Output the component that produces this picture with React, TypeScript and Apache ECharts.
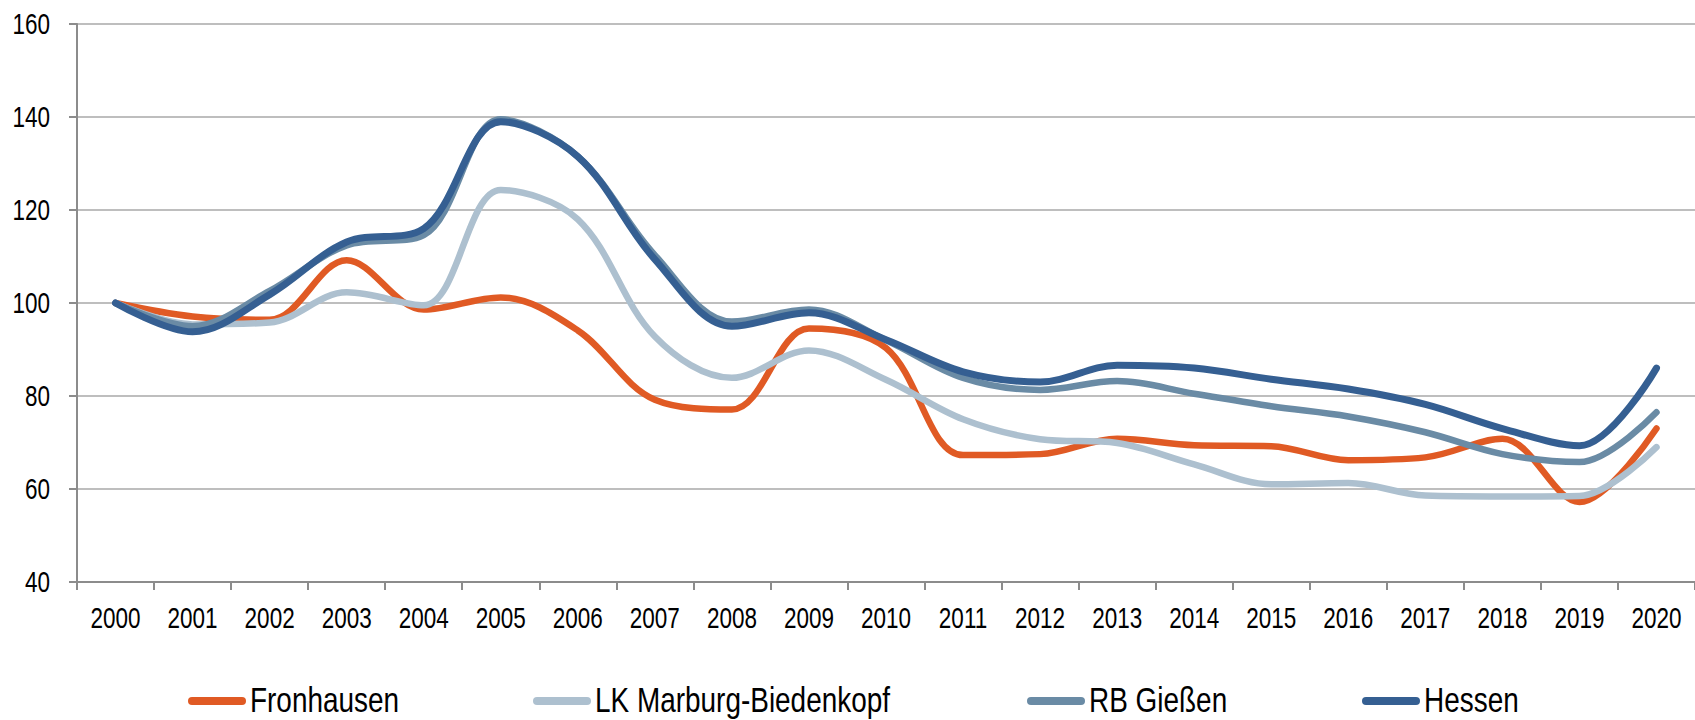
import React, { useEffect, useRef } from "react";
import * as echarts from "echarts";

const years = ["2000","2001","2002","2003","2004","2005","2006","2007","2008","2009","2010","2011","2012","2013","2014","2015","2016","2017","2018","2019","2020"];
const fronhausen = [100, 97.1, 96.4, 109.2, 98.6, 101.2, 94.1, 79.2, 77.1, 94.5, 90.3, 67.3, 67.5, 70.8, 69.4, 69.2, 66.2, 66.8, 70.8, 57.2, 73];
const lkMarburg = [100, 95.4, 95.8, 102.3, 99.5, 124.3, 118, 92.8, 83.9, 89.8, 83.5, 75, 70.7, 69.9, 65.3, 61, 61.3, 58.6, 58.4, 58.5, 69];
const rbGiessen = [100, 95, 102.6, 112.4, 114.6, 139.5, 131.5, 110.3, 96, 98.6, 92, 83.9, 81.3, 83.2, 80.5, 77.8, 75.6, 72.2, 67.5, 65.8, 76.5];
const hessen = [100, 93.8, 101.8, 113.1, 116, 139, 131.5, 109.4, 95, 97.9, 92.1, 85.2, 83, 86.6, 86, 83.6, 81.5, 78.2, 73, 69.3, 86];
const yTickLabels = [40, 60, 80, 100, 120, 140, 160];

const names = ["Fronhausen", "LK Marburg-Biedenkopf", "RB Gießen", "Hessen"];
const colors = ["#e05a24", "#adc0cf", "#6a8ba5", "#355f92"];
const seriesData = [fronhausen, lkMarburg, rbGiessen, hessen];
const legendX = [188, 533, 1027, 1362];

const FONT = "'Liberation Sans', Arial, sans-serif";

export default function App() {
  const ref = useRef<HTMLDivElement>(null);
  useEffect(() => {
    if (!ref.current) return;
    const chart = echarts.init(ref.current, null, { renderer: "svg" });
    chart.setOption({
      animation: false,
      backgroundColor: "#ffffff",
      grid: { left: 77, top: 24, width: 1621, height: 558, containLabel: false },
      xAxis: {
        type: "category",
        data: years,
        boundaryGap: true,
        axisLine: { lineStyle: { color: "#8c8c8c", width: 2 } },
        axisTick: { show: true, length: 8, alignWithLabel: false, lineStyle: { color: "#8c8c8c", width: 2 } },
        axisLabel: { show: false },
        splitLine: { show: false },
      },
      yAxis: {
        type: "value",
        min: 40,
        max: 160,
        interval: 20,
        axisLine: { show: true, lineStyle: { color: "#8c8c8c", width: 2 } },
        axisTick: { show: true, length: 8, lineStyle: { color: "#8c8c8c", width: 2 } },
        axisLabel: { show: false },
        splitLine: { show: true, lineStyle: { color: "#a8a8a8", width: 1.5 } },
      },
      series: names.map((n, i) => ({
        name: n,
        type: "line",
        data: seriesData[i],
        smooth: 0.35,
        showSymbol: false,
        symbol: "none",
        itemStyle: { color: colors[i] },
        lineStyle: { color: colors[i], width: i === 3 ? 7 : 6.5, cap: "round", join: "round" },
      })),
    });

    const elements: any[] = [];
    yTickLabels.forEach((v) => {
      const y = chart.convertToPixel({ yAxisIndex: 0 }, v) as number;
      elements.push({
        type: "text",
        x: 50,
        y,
        scaleX: 0.75,
        style: { text: String(v), fontFamily: FONT, fontSize: 30, fill: "#000", align: "right", verticalAlign: "middle" },
      });
    });
    years.forEach((yr) => {
      const x = chart.convertToPixel({ xAxisIndex: 0 }, yr) as number;
      elements.push({
        type: "text",
        x,
        y: 618,
        scaleX: 0.75,
        style: { text: yr, fontFamily: FONT, fontSize: 30, fill: "#000", align: "center", verticalAlign: "middle" },
      });
    });
    names.forEach((n, i) => {
      elements.push({
        type: "rect",
        x: legendX[i],
        y: 697,
        shape: { x: 0, y: 0, width: 58, height: 8, r: 4 },
        style: { fill: colors[i] },
      });
      elements.push({
        type: "text",
        x: legendX[i] + 62,
        y: 700,
        scaleX: 0.776,
        style: { text: n, fontFamily: FONT, fontSize: 36, fill: "#000", align: "left", verticalAlign: "middle" },
      });
    });
    chart.setOption({ graphic: { elements } });
    return () => chart.dispose();
  }, []);
  return <div ref={ref} style={{ position: "fixed", left: 0, top: 0, width: 1695, height: 720 }} />;
}
